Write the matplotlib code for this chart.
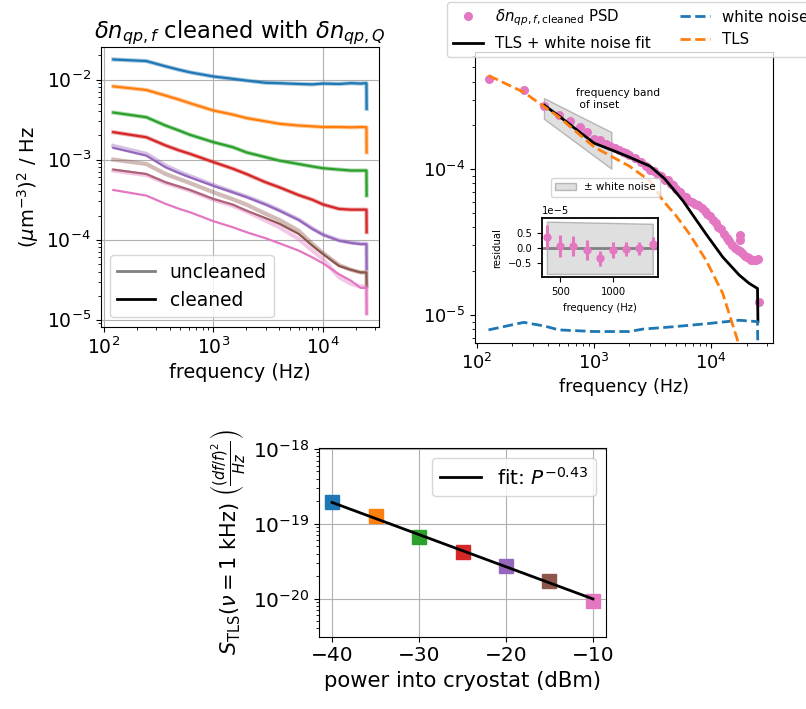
import matplotlib.pyplot as plt
from matplotlib.lines import Line2D
from matplotlib.patches import Patch
from matplotlib.ticker import ScalarFormatter

# ---------------- panel 1: PSD of dn_qp,f for each readout power
freq = [122, 244, 366, 488, 610, 1000, 1500, 2000, 3000, 4000, 6000, 8000,
        10000, 14000, 18000, 22000, 24900, 25000]
psd_blue = [0.0178, 0.0170, 0.0146, 0.0132, 0.0123, 0.0109, 0.0102, 0.0097, 0.0091,
            0.0090, 0.0088, 0.0087, 0.0089, 0.0088, 0.0090, 0.0089, 0.0090, 0.0043]
psd_orange = [8.2e-3, 7.4e-3, 6.3e-3, 5.6e-3, 5.06e-3, 4.1e-3, 3.65e-3, 3.3e-3, 3.0e-3,
              2.8e-3, 2.66e-3, 2.6e-3, 2.55e-3, 2.55e-3, 2.53e-3, 2.55e-3, 2.54e-3, 1.23e-3]
psd_green = [3.87e-3, 3.38e-3, 2.66e-3, 2.3e-3, 2.04e-3, 1.65e-3, 1.43e-3, 1.23e-3, 1.07e-3,
             9.7e-4, 8.8e-4, 8.2e-4, 7.8e-4, 7.5e-4, 7.3e-4, 7.3e-4, 7.3e-4, 3.55e-4]
psd_red = [2.2e-3, 1.9e-3, 1.5e-3, 1.3e-3, 1.18e-3, 9.3e-4, 7.7e-4, 6.6e-4, 5.2e-4,
           4.5e-4, 3.6e-4, 3.15e-4, 2.75e-4, 2.42e-4, 2.37e-4, 2.37e-4, 2.37e-4, 1.24e-4]
psd_purple = [1.4e-3, 1.12e-3, 8.0e-4, 6.75e-4, 6.0e-4, 4.7e-4, 3.9e-4, 3.4e-4, 2.74e-4,
              2.3e-4, 1.76e-4, 1.36e-4, 1.15e-4, 9.7e-5, 9.1e-5, 8.8e-5, 8.8e-5, 4.3e-5]
psd_brown = [7.5e-4, 6.6e-4, 5.2e-4, 4.6e-4, 4.17e-4, 3.22e-4, 2.74e-4, 2.3e-4, 1.85e-4,
             1.58e-4, 1.18e-4, 8.4e-5, 6.6e-5, 4.7e-5, 4.2e-5, 3.9e-5, 3.9e-5, 2.6e-5]
psd_pink = [4.17e-4, 3.55e-4, 2.8e-4, 2.42e-4, 2.2e-4, 1.7e-4, 1.43e-4, 1.24e-4, 1.04e-4,
            9.0e-5, 7.3e-5, 6.0e-5, 5.06e-5, 3.7e-5, 3.07e-5, 2.5e-5, 2.5e-5, 1.18e-5]
# uncleaned versions that differ visibly from the cleaned ones
raw_purple = [1.48e-3, 1.18e-3, 8.4e-4, 7.0e-4, 6.2e-4, 4.8e-4, 3.95e-4, 3.45e-4, 2.78e-4,
              2.33e-4, 1.78e-4, 1.38e-4, 1.16e-4, 9.8e-5, 9.2e-5, 8.9e-5, 8.9e-5, 4.3e-5]
raw_brown = [1.0e-3, 8.8e-4, 6.6e-4, 5.7e-4, 5.1e-4, 3.9e-4, 3.2e-4, 2.74e-4, 2.1e-4,
             1.76e-4, 1.29e-4, 8.8e-5, 6.8e-5, 4.8e-5, 4.2e-5, 3.9e-5, 3.9e-5, 2.6e-5]
raw_pink = [7.3e-4, 6.4e-4, 5.1e-4, 4.5e-4, 4.1e-4, 3.15e-4, 2.65e-4, 2.25e-4, 1.73e-4,
            1.43e-4, 1.02e-4, 7.3e-5, 5.7e-5, 3.4e-5, 2.8e-5, 2.6e-5, 2.6e-5, 1.2e-5]

cleaned = [psd_blue, psd_orange, psd_green, psd_red, psd_purple, psd_brown, psd_pink]
uncleaned = [psd_blue, psd_orange, psd_green, psd_red, raw_purple, raw_brown, raw_pink]
colors = ['C0', 'C1', 'C2', 'C3', 'C4', 'C5', 'C6']

# ---------------- panel 2: one PSD with TLS + white noise fit
psd_f = [125, 250, 375, 500, 625, 750, 875, 1000, 1125, 1250, 1375, 1500, 1625, 1750,
         1875, 2000, 2250, 2500, 2750, 3000, 3250, 3500, 3750, 4000, 4250, 4500, 4750,
         5000, 5375, 5750, 6125, 6500, 6875, 7250, 7750, 8250, 8750, 9250, 9750, 10250,
         10875, 11500, 12125, 12750, 13500, 14250, 15000, 15875, 16750, 17500, 17500,
         17625, 18375, 19250, 20125, 21000, 22000, 23000, 24000, 24875, 25625]
psd_v = [4.15e-4, 3.5e-4, 2.7e-4, 2.35e-4, 2.15e-4, 1.95e-4, 1.8e-4, 1.62e-4, 1.58e-4,
         1.5e-4, 1.45e-4, 1.4e-4, 1.36e-4, 1.32e-4, 1.29e-4, 1.26e-4, 1.2e-4, 1.13e-4,
         1.06e-4, 9.9e-5, 9.8e-5, 9.2e-5, 9.0e-5, 8.5e-5, 8.4e-5, 7.9e-5, 7.8e-5, 7.3e-5,
         7.0e-5, 6.6e-5, 6.5e-5, 6.1e-5, 6.0e-5, 5.8e-5, 5.7e-5, 5.4e-5, 5.2e-5, 4.9e-5,
         4.8e-5, 4.5e-5, 4.3e-5, 4.0e-5, 3.9e-5, 3.6e-5, 3.4e-5, 3.2e-5, 3.0e-5, 2.9e-5,
         2.8e-5, 2.75e-5, 3.55e-5, 3.25e-5, 2.65e-5, 2.55e-5, 2.5e-5, 2.45e-5, 2.4e-5,
         2.38e-5, 2.4e-5, 2.42e-5, 1.23e-5]
fit_f = [375, 500, 750, 1000, 1500, 2000, 3000, 4000, 5700, 9000, 12500, 17300, 21000,
         24800, 25000]
fit_v = [2.75e-4, 2.32e-4, 1.8e-4, 1.51e-4, 1.33e-4, 1.21e-4, 1.05e-4, 8.6e-5, 6.1e-5,
         3.6e-5, 2.5e-5, 1.88e-5, 1.65e-5, 1.52e-5, 9.0e-6]
tls_f = [125, 250, 500, 1000, 2000, 3000, 3860, 5000, 6500, 9000, 12500, 16700, 18000]
tls_v = [4.4e-4, 3.38e-4, 2.28e-4, 1.42e-4, 1.05e-4, 8.3e-5, 6.1e-5, 4.8e-5, 3.6e-5,
         2.38e-5, 1.41e-5, 6.76e-6, 5.0e-6]
wn_f = [125, 250, 375, 500, 1000, 2000, 2600, 4700, 9000, 17300, 24800, 25000]
wn_v = [7.9e-6, 8.9e-6, 8.4e-6, 7.9e-6, 7.7e-6, 7.7e-6, 8.0e-6, 8.3e-6, 8.7e-6, 9.2e-6,
        9.0e-6, 5.0e-6]
band_f = [372, 1400]
band_lo = [2.22e-4, 1.01e-4]
band_hi = [3.08e-4, 1.8e-4]

# inset residuals (units of 1e-5)
res_f = [375, 500, 625, 750, 875, 1000, 1125, 1250, 1375]
res_v = [0.36, 0.056, 0.056, -0.076, -0.35, -0.076, -0.043, -0.02, 0.14]
res_err = [0.40, 0.36, 0.34, 0.32, 0.25, 0.26, 0.24, 0.22, 0.21]
shade_f = [375, 1375]
shade_lo = [-0.86, -0.86]
shade_hi = [0.86, 0.79]

# ---------------- panel 3: TLS level vs power
power = [-40, -35, -30, -25, -20, -15, -10]
s_tls = [1.93e-19, 1.29e-19, 6.6e-20, 4.2e-20, 2.77e-20, 1.73e-20, 9.3e-21]
fit_p = [-40, -10]
fit_s = [1.93e-19, 9.9e-21]

fig = plt.figure(figsize=(8.06, 7.09), dpi=100)

# panel 1
ax1 = fig.add_axes([0.1249, 0.5392, 0.3457, 0.3949])
for c, raw, cl in zip(colors, uncleaned, cleaned):
    ax1.plot(freq, raw, color=c, alpha=0.4, lw=3)
    ax1.plot(freq, cl, color=c, lw=1.6)
ax1.set_xscale('log')
ax1.set_yscale('log')
ax1.grid(True)
ax1.set_xlabel('frequency (Hz)', fontsize=13.8)
ax1.set_ylabel(r'$(\mu$m$^{-3})^2$ / Hz', fontsize=14)
ax1.set_title(r'$\delta n_{qp,f}$ cleaned with $\delta n_{qp,Q}$', fontsize=16.3)
ax1.tick_params(labelsize=13.5)
leg1 = [Line2D([], [], color='gray', lw=2), Line2D([], [], color='black', lw=2)]
ax1.legend(leg1, ['uncleaned', 'cleaned'], loc='lower left', fontsize=13.4)

# panel 2
ax2 = fig.add_axes([0.5893, 0.5166, 0.3694, 0.4096])
ax2.plot(psd_f, psd_v, 'o', color='C6', ms=5.5)
ax2.fill_between(band_f, band_lo, band_hi, facecolor=(0.5, 0.5, 0.5, 0.25),
                 edgecolor=(0.5, 0.5, 0.5, 0.5))
ax2.plot(fit_f, fit_v, color='black', lw=2)
ax2.plot(wn_f, wn_v, '--', color='C0', lw=2)
ax2.plot(tls_f, tls_v, '--', color='C1', lw=2)
ax2.set_xscale('log')
ax2.set_yscale('log')
ax2.set_ylim(6.45e-6, 6.35e-4)
ax2.set_xlabel('frequency (Hz)', fontsize=12.6)
ax2.tick_params(labelsize=12.8)
ax2.text(702, 3.6e-4, 'frequency band\n of inset', fontsize=7.7, ha='left', va='top')
h2 = [Line2D([], [], ls='', marker='o', color='C6', ms=5.5),
      Line2D([], [], color='black', lw=2),
      Line2D([], [], ls='--', color='C0', lw=2),
      Line2D([], [], ls='--', color='C1', lw=2)]
l2 = [r'$\delta n_{qp,f,\mathrm{cleaned}}$ PSD', 'TLS + white noise fit',
      'white noise', 'TLS']
ax2.legend(h2, l2, ncol=2, fontsize=10.8, loc='upper left', borderaxespad=0,
           bbox_to_anchor=(446.7 / 806, 1 - 1.7 / 709), bbox_transform=fig.transFigure)
ax2.add_artist(ax2.get_legend())
wn_patch = Patch(facecolor=(0.5, 0.5, 0.5, 0.25), edgecolor=(0.5, 0.5, 0.5, 0.5))
ax2.legend([wn_patch], ['± white noise'], fontsize=7.5, loc='upper left',
           borderaxespad=0, bbox_to_anchor=(550.7 / 806, 1 - 178.3 / 709),
           bbox_transform=fig.transFigure)

# inset with residuals
axin = fig.add_axes([0.6721, 0.6089, 0.1439, 0.0832])
axin.fill_between(shade_f, [v * 1e-5 for v in shade_lo], [v * 1e-5 for v in shade_hi],
                  facecolor=(0.5, 0.5, 0.5, 0.25), edgecolor=(0.5, 0.5, 0.5, 0.5))
axin.axhline(0, color='gray', lw=2)
axin.errorbar(res_f, [v * 1e-5 for v in res_v], yerr=[e * 1e-5 for e in res_err],
              fmt='o', color='C6', ms=5, elinewidth=2.2)
axin.set_xlim(326, 1422)
axin.set_ylim(-0.97e-5, 0.97e-5)
axin.set_xticks([500, 1000])
axin.set_yticks([-0.5e-5, 0, 0.5e-5])
yfmt = ScalarFormatter()
yfmt.set_powerlimits((-5, -5))
axin.yaxis.set_major_formatter(yfmt)
axin.tick_params(labelsize=7.2)
axin.yaxis.get_offset_text().set_fontsize(7.2)
axin.set_xlabel('frequency (Hz)', fontsize=7.2)
axin.set_ylabel('residual', fontsize=7.2)
for s in axin.spines.values():
    s.set_linewidth(1.3)

# panel 3
ax3 = fig.add_axes([0.3958, 0.1020, 0.3561, 0.2657])
for p, s, c in zip(power, s_tls, colors):
    ax3.plot(p, s, 's', color=c, ms=10)
ax3.plot(fit_p, fit_s, color='black', lw=2, label=r'fit: $P^{-0.43}$')
ax3.set_yscale('log')
ax3.set_ylim(3.1e-21, 1.02e-18)
ax3.set_xticks([-40, -30, -20, -10])
ax3.grid(True)
ax3.tick_params(labelsize=14.5)
ax3.set_xlabel('power into cryostat (dBm)', fontsize=15.2)
ax3.set_ylabel(r'$S_{\mathrm{TLS}}(\nu = 1$ kHz$)\ \left(\frac{(df/f)^2}{Hz}\right)$',
               fontsize=15)
ax3.legend(loc='upper right', fontsize=14.5)

fig.savefig('out.png', dpi=100)
